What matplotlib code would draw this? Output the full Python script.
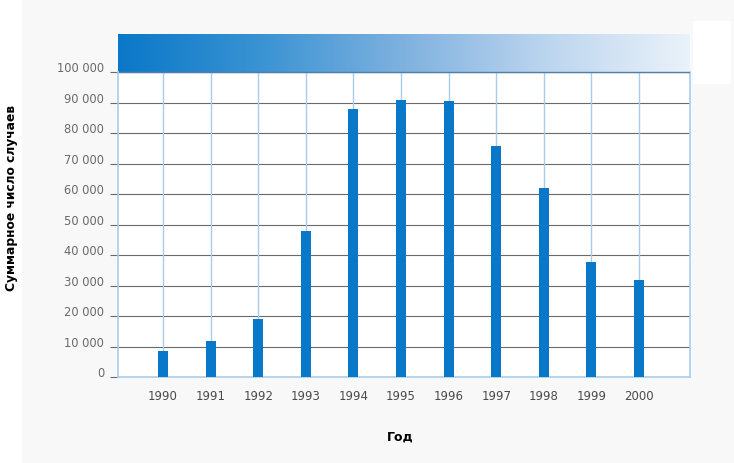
import matplotlib
matplotlib.use("Agg")
import matplotlib.pyplot as plt
import matplotlib.transforms as mtransforms
from matplotlib.colors import LinearSegmentedColormap
from matplotlib.patches import Rectangle
import numpy as np

# Суммарное число случаев по годам
years = [1990, 1991, 1992, 1993, 1994, 1995, 1996, 1997, 1998, 1999, 2000]
cases = [8500, 11800, 19000, 48000, 87900, 90900, 90500, 75800, 62000, 37700, 31900]
y_ticks = [0, 10000, 20000, 30000, 40000, 50000, 60000, 70000, 80000, 90000, 100000]

bar_color = '#0a78c8'
vgrid_color = '#a8cdec'
hgrid_color = '#6a6a6a'
tick_color = '#6a6a6a'

fig = plt.figure(figsize=(7.34, 4.64), dpi=100)
fig.patch.set_facecolor('white')
# светло-серая подложка
fig.patches.append(Rectangle((22 / 734, 0), 1, 1, transform=fig.transFigure,
                             facecolor='#f8f8f8', edgecolor='none', zorder=-10))
fig.patches.append(Rectangle((693 / 734, 1 - 85 / 464), 38 / 734, 63 / 464,
                             transform=fig.transFigure, facecolor='white',
                             edgecolor='none', zorder=-9))

ax = fig.add_axes([118 / 734, 86 / 464, 572 / 734, 343 / 464])
ax.set_facecolor('white')

x_lo, x_hi = years[0] - 0.945, years[-1] + 1.07
top = 112500
ax.set_xlim(x_lo, x_hi)
ax.set_ylim(0, top)

# горизонтальная линейка
for v in y_ticks[1:]:
    ax.axhline(v, color=hgrid_color, lw=0.8, zorder=1)
# вертикальные линии по годам
for yr in years:
    ax.plot([yr, yr], [0, y_ticks[-1]], color=vgrid_color, lw=1.0, zorder=1)
ax.plot([x_hi, x_hi], [0, y_ticks[-1]], color=vgrid_color, lw=1.2, zorder=1, clip_on=False)

ax.bar(years, cases, width=0.21, color=bar_color, zorder=3)

# градиентная плашка сверху
cmap = LinearSegmentedColormap.from_list('banner', ['#0a78c8', '#3a93d3', '#7fb1df', '#bcd5ee', '#eaf2fa'])
grad = np.linspace(0, 1, 256).reshape(1, -1)
ax.imshow(grad, cmap=cmap, aspect='auto', extent=[x_lo, x_hi, y_ticks[-1], top],
          zorder=2, interpolation='bilinear')
ax.axhline(y_ticks[-1], color='#4f7fa8', lw=1.0, zorder=2)

for side in ['top', 'right']:
    ax.spines[side].set_visible(False)
ax.spines['left'].set_color(vgrid_color)
ax.spines['left'].set_linewidth(1.2)
ax.spines['left'].set_bounds(0, y_ticks[-1])
ax.spines['bottom'].set_color(vgrid_color)
ax.spines['bottom'].set_linewidth(1.2)

ax.set_yticks(y_ticks)
ax.set_yticklabels([f"{v:,}".replace(",", " ") for v in y_ticks])
ax.tick_params(axis='y', length=6, width=0.8, color=hgrid_color, labelcolor=tick_color,
               labelsize=8.3, pad=4)
offset = mtransforms.ScaledTranslation(0, 6 / 100, fig.dpi_scale_trans)
for lbl in ax.get_yticklabels():
    lbl.set_transform(lbl.get_transform() + offset)

ax.set_xticks(years)
ax.set_xticklabels([str(y) for y in years])
ax.tick_params(axis='x', length=0, labelcolor='#4a4a4a', labelsize=8.5, pad=9)

fig.text(12 / 734, 1 - 198 / 464, 'Суммарное число случаев', rotation=90,
         ha='center', va='center', fontsize=8.8, fontweight='bold')
fig.text(400 / 734, 1 - 437 / 464, 'Год', ha='center', va='center',
         fontsize=9, fontweight='bold')

fig.savefig('out.png', dpi=100)
